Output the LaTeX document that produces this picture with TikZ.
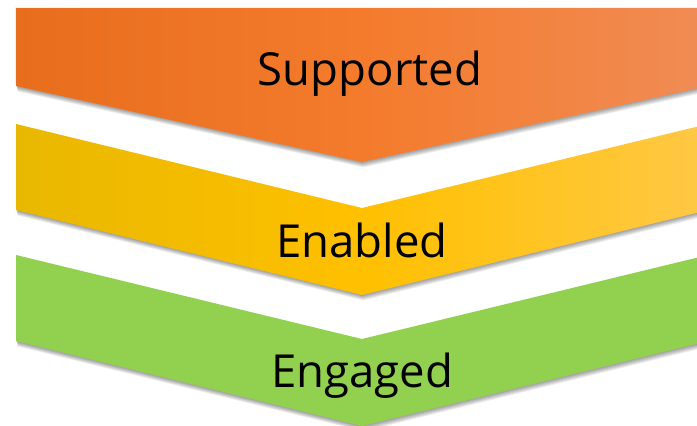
\documentclass[tikz,border=0pt]{standalone}
\usepackage{fontspec}
\setmainfont{Open Sans}
\definecolor{orange1}{HTML}{E86E1E}
\definecolor{orange2}{HTML}{F47B2C}
\definecolor{orange3}{HTML}{F08C55}
\definecolor{yellow1}{HTML}{E8B800}
\definecolor{yellow2}{HTML}{FFC000}
\definecolor{yellow3}{HTML}{FFC846}
\definecolor{green1}{HTML}{92D050}
\begin{document}
\begin{tikzpicture}[x=1pt,y=-1pt,
  lbl/.style={font=\fontsize{45.5}{50}\selectfont, text=black, inner sep=0pt, anchor=base},
  shade1/.style={fill=black, fill opacity=0.07}]
\useasboundingbox (0,0) rectangle (697,426);
\clip (0,0) rectangle (697,426);
\def\orange{(16,8) -- (708,8) -- (708,86) -- (362,162) -- (16,86) -- cycle}
\def\yellow{(16,124) -- (362,208) -- (708,124) -- (708,210) -- (362,295) -- (16,210) -- cycle}
\def\green{(16,255) -- (362,339) -- (708,255) -- (708,341) -- (362,426) -- (16,341) -- cycle}
% shadows
\foreach \i in {1,...,6}{
  \fill[shade1, shift={(0.25*\i,0.9*\i)}] \orange;
  \fill[shade1, shift={(0.25*\i,0.9*\i)}] \yellow;
  \fill[shade1, shift={(0.25*\i,0.9*\i)}] \green;
}
\fill[fill=black, fill opacity=0.05, shift={(-1,-1)}] \orange;
% bands
\shade[left color=orange1, right color=orange3, middle color=orange2] \orange;
\shade[left color=yellow1, right color=yellow3, middle color=yellow2] \yellow;
\fill[green1] \green;
\node[lbl] (supported) at (370,85) {Supported};
\node[lbl] (enabled) at (362,257) {Enabled};
\node[lbl] (engaged) at (362,387) {Engaged};
\end{tikzpicture}
\end{document}
